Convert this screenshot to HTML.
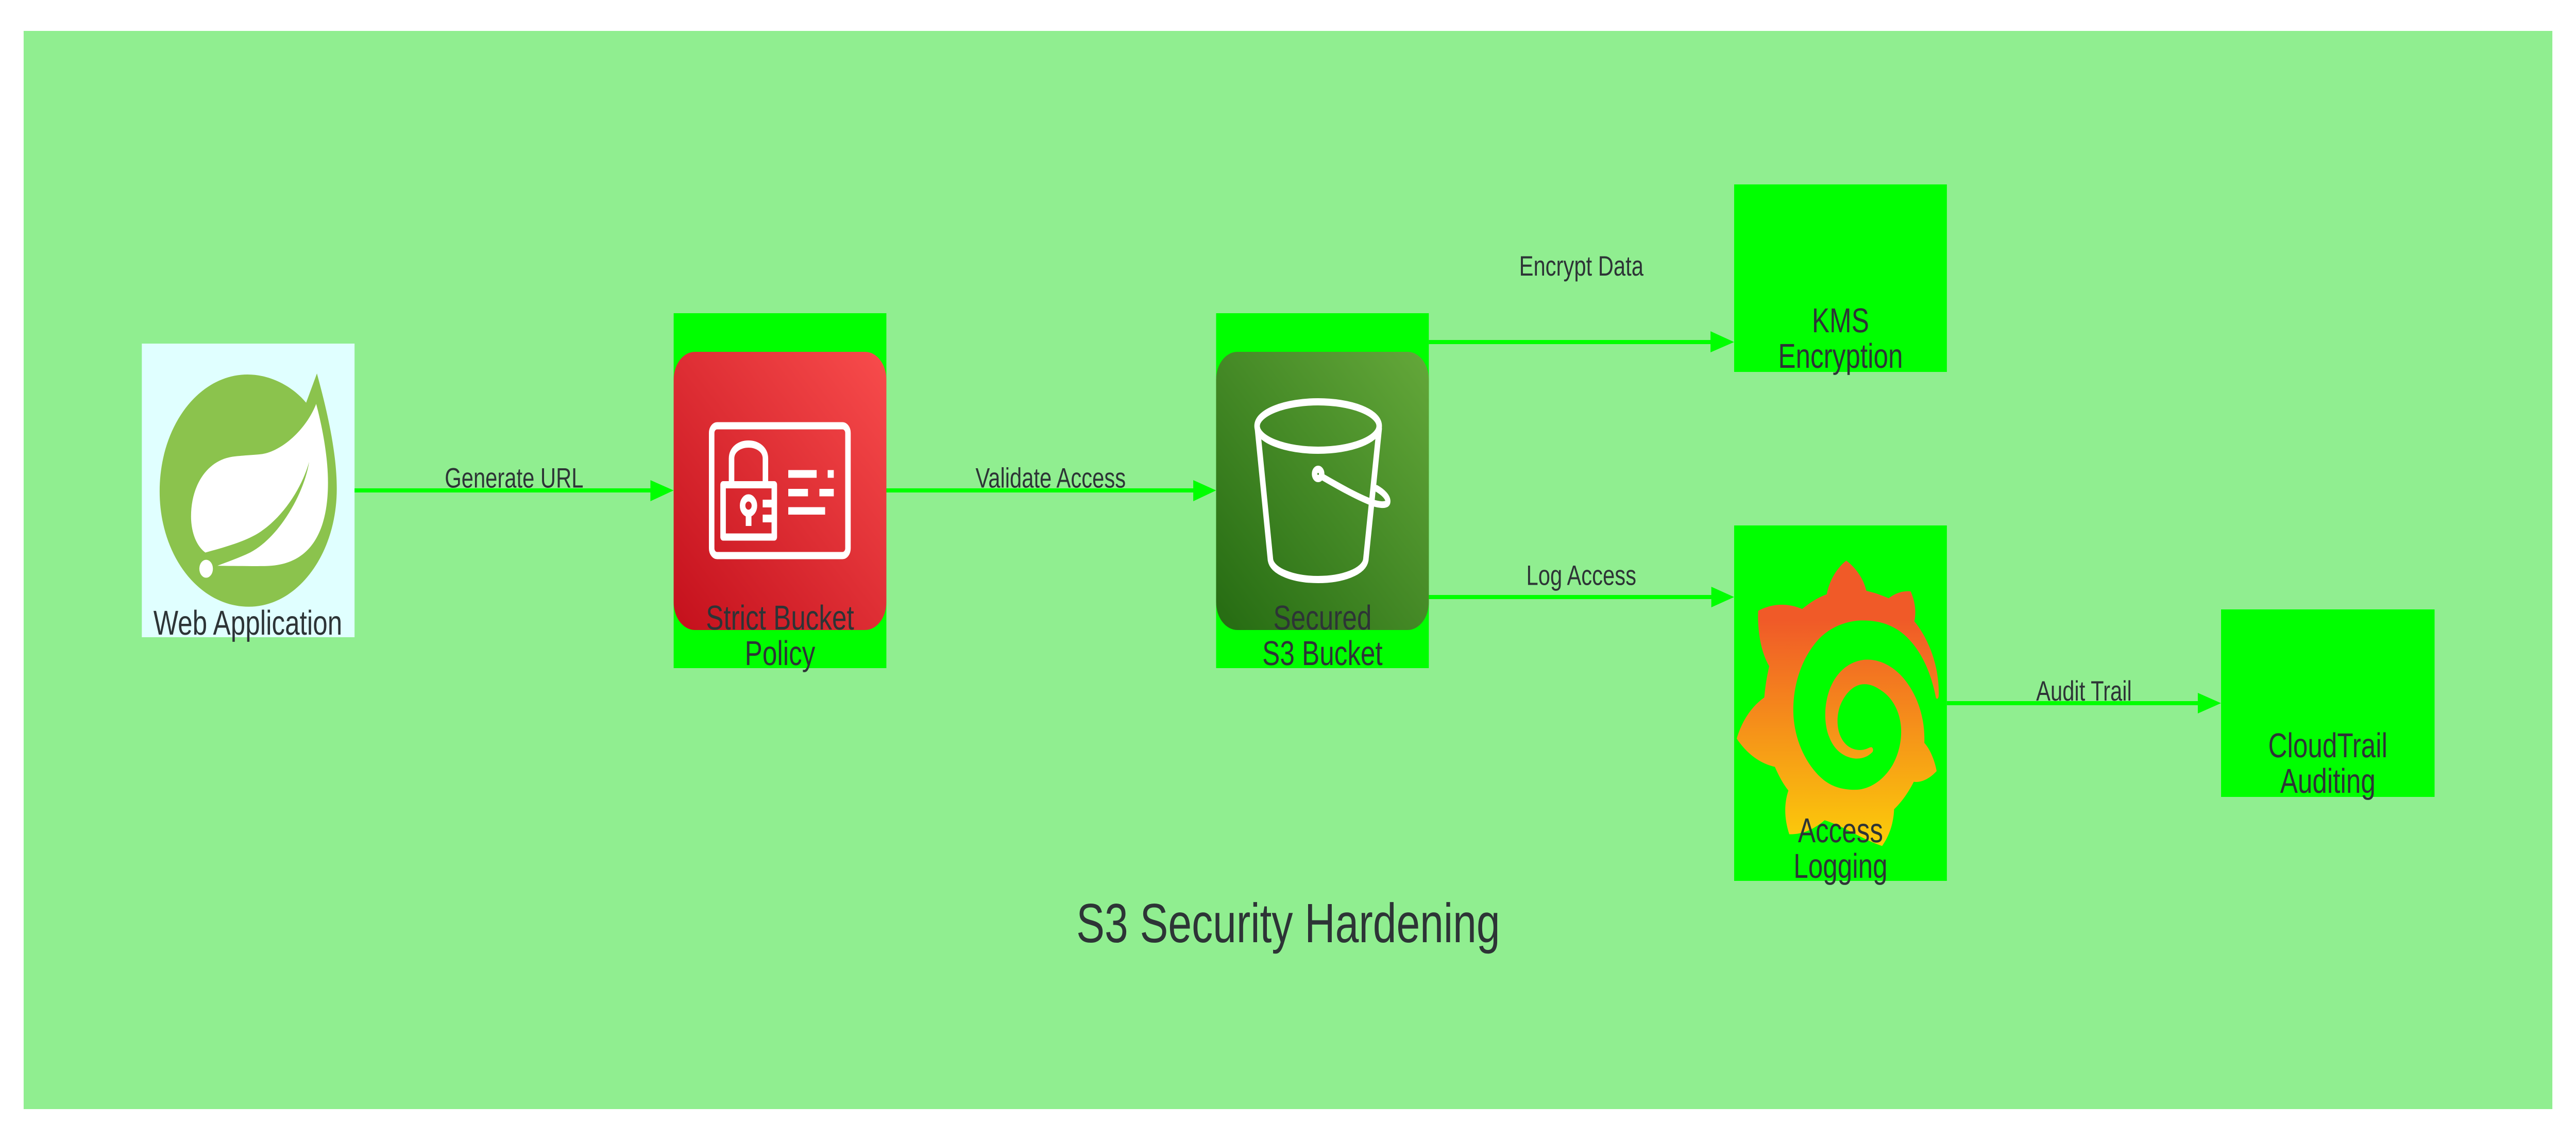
<!DOCTYPE html>
<html lang="en">
<head>
<meta charset="utf-8">
<title>S3 Security Hardening</title>
<style>
html,body{margin:0;padding:0;background:#fff;width:100%;height:100%;overflow:hidden;}
svg{display:block;width:100vw;height:100vh;}
text{font-family:"Liberation Sans",Arial,sans-serif;fill:#2d3436;text-anchor:middle;text-rendering:geometricPrecision;}
.n{font-size:67px;}
.e{font-size:54.6px;}
.t{font-size:107.5px;}
</style>
</head>
<body>
<svg xmlns="http://www.w3.org/2000/svg" viewBox="0 0 6539 2213" preserveAspectRatio="none">
<defs>
<linearGradient id="red" x1="0" y1="1" x2="1" y2="0"><stop offset="0" stop-color="#C4101C"/><stop offset="1" stop-color="#F84C4C"/></linearGradient>
<linearGradient id="grn" x1="0" y1="1" x2="1" y2="0"><stop offset="0" stop-color="#256B12"/><stop offset="1" stop-color="#64A83A"/></linearGradient>
<linearGradient id="gf" gradientUnits="userSpaceOnUse" x1="0" y1="420" x2="0" y2="1300"><stop offset="0" stop-color="#F05A28"/><stop offset="1" stop-color="#FBCA0A"/></linearGradient>
</defs>
<rect width="6539" height="2213" fill="#fff"/>
<rect x="60" y="60" width="6419" height="2093" fill="#90EE90"/>

<!-- boxes -->
<rect x="360" y="667" width="540" height="570" fill="#E0FFFF"/>
<rect x="1710" y="608" width="540" height="689" fill="#00FF00"/>
<rect x="3087" y="608" width="540" height="689" fill="#00FF00"/>
<rect x="4402" y="358" width="540" height="364" fill="#00FF00"/>
<rect x="4402" y="1020" width="540" height="690" fill="#00FF00"/>
<rect x="5638" y="1183" width="542" height="364" fill="#00FF00"/>

<!-- connectors -->
<g fill="#00FF00">
<rect x="900" y="948" width="755" height="8"/><polygon points="1651,932 1710,952 1651,973"/>
<rect x="2250" y="948" width="782" height="8"/><polygon points="3029,932 3087,952 3029,973"/>
<rect x="3627" y="660" width="718" height="8"/><polygon points="4342,643 4402,664 4342,684"/>
<rect x="3627" y="1155" width="720" height="8"/><polygon points="4344,1139 4402,1159 4344,1179"/>
<rect x="4942" y="1361" width="640" height="8"/><polygon points="5579,1345 5638,1365 5579,1385"/>
</g>

<!-- spring -->
<g transform="translate(300 600) scale(.6378 .4847)">
<path fill="#8BC34D" d="M791 258 L748 375 C690 305 600 262 515 262 C320 262 165 470 165 730 C165 985 320 1192 520 1192 C715 1192 870 980 870 720 C870 580 835 420 791 258Z"/>
<path fill="#fff" d="M788 380 C745 490 640 578 560 582 C530 585 480 587 450 592 C350 610 290 710 290 830 C290 895 312 950 347 975 C420 955 490 935 545 905 C650 845 730 720 760 612 C740 740 640 915 525 975 C480 997 435 1012 395 1028 C450 1029 530 1030 590 1029 C760 1025 835 900 835 695 C835 590 812 470 788 380Z"/>
<ellipse cx="350" cy="1040" rx="27" ry="36" fill="#fff"/>
</g>

<!-- red icon -->
<rect x="1710" y="683" width="540" height="540" rx="54" fill="url(#red)"/>
<g fill="none" stroke="#fff" stroke-width="14">
<rect x="1806.5" y="826.5" width="346" height="252" rx="14"/>
<path d="M1857 934 V890 C1857 872 1878 862 1900 862 C1922 862 1943 872 1943 890 V934"/>
<rect x="1835.5" y="941" width="130" height="101.5" stroke-linejoin="round"/>
<circle cx="1900" cy="981.5" r="15"/>
</g>
<g fill="#fff">
<rect x="1893" y="1000" width="14.5" height="21"/>
<rect x="1936" y="970" width="24" height="15"/>
<rect x="1936" y="999" width="24" height="15"/>
<rect x="2001" y="912.5" width="72" height="15"/>
<rect x="2101" y="912.5" width="15.5" height="15"/>
<rect x="2001" y="949" width="50" height="14.5"/>
<rect x="2080" y="949" width="36.5" height="14.5"/>
<rect x="2001" y="984.5" width="93.5" height="14.5"/>
</g>

<!-- bucket icon -->
<rect x="3087" y="683" width="540" height="540" rx="54" fill="url(#grn)"/>
<g fill="none" stroke="#fff" stroke-width="14" stroke-linecap="round">
<ellipse cx="3346" cy="827" rx="155" ry="47"/>
<path d="M3192 832 L3225 1087 C3230 1110 3285 1125 3346 1125 C3407 1125 3462 1110 3467 1087 L3501 832"/>
<circle cx="3346" cy="920" r="9"/>
<path stroke-width="13" d="M3355 925 C3400 945 3440 962 3475 973 C3495 980 3522 983 3523 974 C3524 965 3510 955 3494 948"/>
</g>

<!-- grafana -->
<g transform="translate(4300 1000) scale(.4464 .4847)">
<path fill="url(#gf)" d="M866 182 C920 210 965 255 980 303 C1025 310 1065 320 1107 333 C1145 312 1190 302 1232 305 C1258 345 1265 390 1253 425 C1340 500 1395 610 1392 720 C1392 738 1378 740 1375 728 C1345 620 1280 525 1180 470 C1110 432 1030 420 945 422 C860 425 770 450 705 500 C610 575 565 680 565 780 C565 890 630 990 720 1050 C780 1090 850 1100 915 1100 C1000 1100 1080 1060 1130 1000 C1165 955 1180 905 1178 860 C1175 790 1130 730 1060 700 C1030 685 1000 677 970 677 C900 677 850 725 828 770 C810 810 812 860 840 895 C870 935 930 950 985 935 C995 932 1005 928 1012 930 C1022 936 1020 948 1010 952 C985 970 950 976 920 975 C860 972 800 945 770 890 C745 850 740 790 755 740 C780 650 860 590 960 580 C1050 572 1140 605 1205 665 C1270 725 1315 810 1310 912 C1345 940 1370 985 1380 1025 C1340 1055 1295 1072 1250 1068 C1220 1110 1180 1150 1138 1178 C1135 1235 1110 1285 1070 1325 C960 1300 850 1245 743 1222 C680 1260 610 1280 542 1278 C515 1220 510 1160 537 1103 C505 1075 480 1040 460 1008 C375 995 300 955 243 895 C275 820 330 765 400 730 C405 685 415 645 428 605 C385 555 360 470 365 383 C450 352 535 352 615 376 C660 350 705 330 755 317 C770 260 815 210 866 182Z"/>
</g>

<!-- node labels -->
<text class="n" x="629" y="1232">Web Application</text>
<text class="n" x="1980" y="1222">Strict Bucket</text>
<text class="n" x="1980" y="1291">Policy</text>
<text class="n" x="3357" y="1222">Secured</text>
<text class="n" x="3357" y="1291">S3 Bucket</text>
<text class="n" x="4672" y="645">KMS</text>
<text class="n" x="4672" y="714">Encryption</text>
<text class="n" x="4672" y="1635">Access</text>
<text class="n" x="4672" y="1704">Logging</text>
<text class="n" x="5909" y="1470">CloudTrail</text>
<text class="n" x="5909" y="1539">Auditing</text>

<!-- edge labels -->
<text class="e" x="1305" y="946.5">Generate URL</text>
<text class="e" x="2667" y="946.5">Validate Access</text>
<text class="e" x="4014" y="535">Encrypt Data</text>
<text class="e" x="4014" y="1135.5">Log Access</text>
<text class="e" x="5290" y="1360">Audit Trail</text>

<text class="t" x="3270" y="1829">S3 Security Hardening</text>
</svg>
</body>
</html>
